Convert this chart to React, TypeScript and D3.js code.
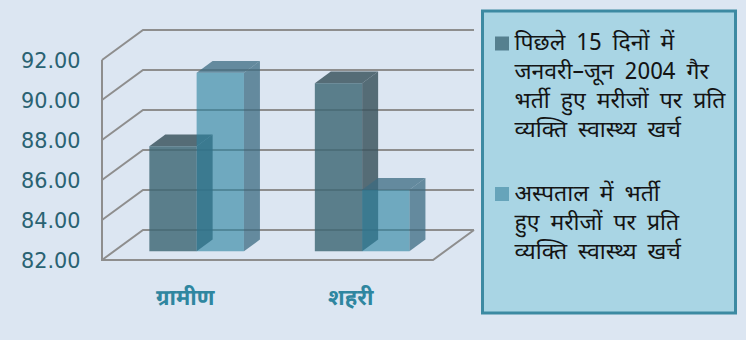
import React from "react";
import * as d3 from "d3";

const categories = ["ग्रामीण", "शहरी"];
const outpatientValues = [87.25, 90.4];
const inpatientValues = [90.93, 85.08];
const axisTicks = [82, 84, 86, 88, 90, 92];
const legendOutpatient = ["पिछले 15 दिनों में", "जनवरी–जून 2004 गैर", "भर्ती हुए मरीजों पर प्रति", "व्यक्ति स्वास्थ्य खर्च"];
const legendInpatient = ["अस्पताल में भर्ती", "हुए मरीजों पर प्रति", "व्यक्ति स्वास्थ्य खर्च"];

const W = 746, H = 340;
const FLOOR_DX = 41, FLOOR_DY = -30;
const BAR_NEAR = 0.29, BAR_FAR = 0.68;
const BAR_W = 47.3;
const HINDI = "'Noto Sans Devanagari','Lohit Devanagari','Noto Sans','DejaVu Sans',sans-serif";

const y = d3.scaleLinear().domain([82, 92]).range([260, 60]);
const x = d3.scaleBand<string>().domain(categories).range([102, 433]);

const poly = (pts: number[][]) => (d3.line()(pts as [number, number][]) ?? "") + "Z";

type Tone = { front: string; frontO: number; side: string; sideO: number };
const darkTone: Tone = { front: "#3d6674", frontO: 0.82, side: "#3d5660", sideO: 0.85 };
const lightTone: Tone = { front: "#2b82a0", frontO: 0.62, side: "#3c6b82", sideO: 0.75 };

function Bar({ x0, value, tone }: { x0: number; value: number; tone: Tone }) {
  const ny = FLOOR_DY * BAR_NEAR;
  const dx = FLOOR_DX * (BAR_FAR - BAR_NEAR), dy = FLOOR_DY * (BAR_FAR - BAR_NEAR);
  const l = x0, r = x0 + BAR_W;
  const b = y(82) + ny, t = y(value) + ny;
  return (
    <g>
      <path d={poly([[l, t], [r, t], [r + dx, t + dy], [l + dx, t + dy]])} fill={tone.side} fillOpacity={tone.sideO} />
      <path d={poly([[r, t], [r + dx, t + dy], [r + dx, b + dy], [r, b]])} fill={tone.side} fillOpacity={tone.sideO} />
      <path d={poly([[l, t], [r, t], [r, b], [l, b]])} fill={tone.front} fillOpacity={tone.frontO} />
    </g>
  );
}

export default function App() {
  const left = x.range()[0], right = x.range()[1];
  const nearX = FLOOR_DX * BAR_NEAR;
  return (
    <svg width={W} height={H} style={{ position: "absolute", left: 0, top: 0 }}>
      <rect width={W} height={H} fill="#dce6f2" />
      {/* walls and floor */}
      <g fill="none" stroke="#8e8e8e" strokeWidth={2}>
        <path d={`M${left},${y(92)}V${y(82)}H${right}L${right + FLOOR_DX},${y(82) + FLOOR_DY}`} />
        {axisTicks.map((t) => (
          <path key={t} d={`M${left},${y(t)}L${left + FLOOR_DX},${y(t) + FLOOR_DY}H${right + FLOOR_DX}`} />
        ))}
      </g>
      {/* tick labels */}
      {axisTicks.map((t) => (
        <text key={t} x={80.5} y={y(t) + 7.5} textAnchor="end" fontFamily="'DejaVu Sans',sans-serif" fontSize={20.8} fill="#2a6272">
          {d3.format(".2f")(t)}
        </text>
      ))}
      {/* paired columns, rear series last so it tints the neighbour's side */}
      {categories.map((c, i) => {
        const cx = x(c)! + x.bandwidth() / 2 + nearX;
        return (
          <g key={c}>
            <Bar x0={cx - BAR_W} value={outpatientValues[i]} tone={darkTone} />
            <Bar x0={cx} value={inpatientValues[i]} tone={lightTone} />
          </g>
        );
      })}
      {categories.map((c) => (
        <text key={c} x={x(c)! + x.bandwidth() / 2 + 0.5} y={305} textAnchor="middle" fontFamily={HINDI} fontWeight={700} fontSize={22} fill="#2f86a0">
          {c}
        </text>
      ))}
      {/* legend panel */}
      <rect x={482.5} y={11} width={253} height={302} fill="#a9d5e4" stroke="#3c8aa2" strokeWidth={3} />
      <rect x={495} y={36.5} width={14} height={14} fill="#55808f" />
      <rect x={495} y={187} width={14} height={14} fill="#66a4ba" />
      <g fontFamily={HINDI} fontSize={23} fill="#141414">
        {legendOutpatient.map((s, i) => (
          <text key={s} x={514.5} y={50 + i * 29} wordSpacing={5}>{s}</text>
        ))}
        {legendInpatient.map((s, i) => (
          <text key={s} x={514.5} y={201 + i * 29} wordSpacing={5}>{s}</text>
        ))}
      </g>
    </svg>
  );
}
